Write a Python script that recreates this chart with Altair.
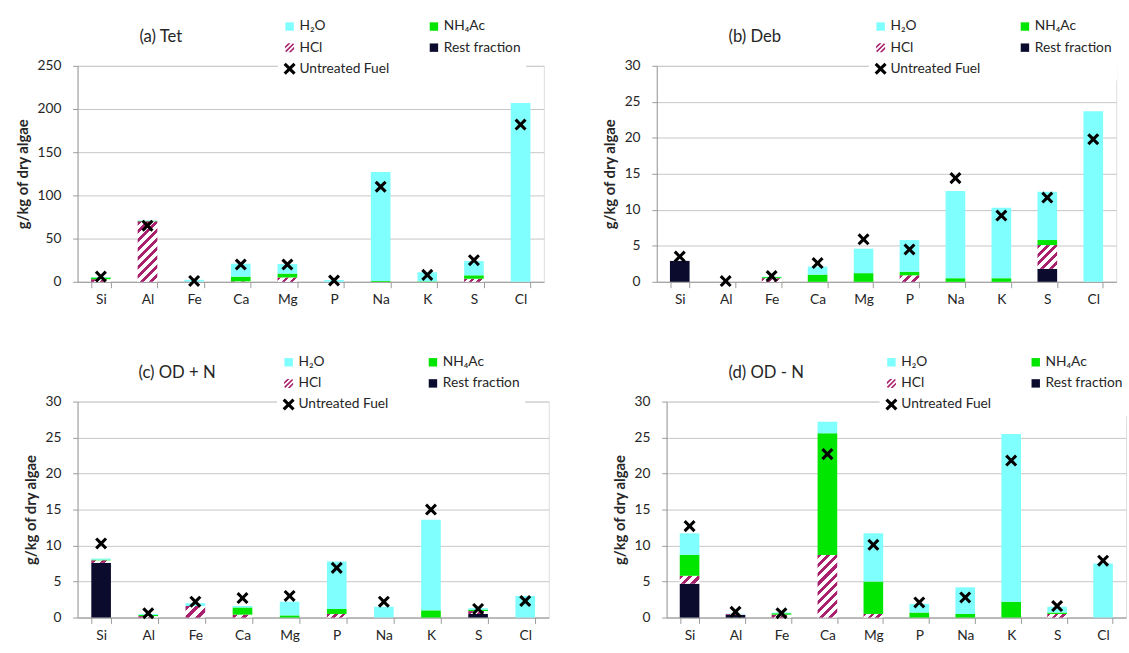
import math
import altair as alt
import pandas as pd

elements = ["Si", "Al", "Fe", "Ca", "Mg", "P", "Na", "K", "S", "Cl"]
series_names = ["H₂O", "NH₄Ac", "HCl", "Rest fraction", "Untreated Fuel"]

# (a) Tet
tet_rest = [0, 0, 0, 0, 0, 0, 0, 0, 0, 0]
tet_hcl = [3, 70, 0.3, 0.5, 5, 0, 0, 0, 3.5, 0]
tet_nh4ac = [2, 0.5, 0, 5.5, 4.5, 0, 1, 0.5, 4, 0]
tet_h2o = [0.5, 0.5, 2, 15, 11, 2, 126, 10.5, 16.5, 207]
tet_untreated = [6, 65, 1, 20, 20, 1.5, 110, 8, 25, 182]

# (b) Deb
deb_rest = [2.9, 0, 0, 0, 0, 0, 0, 0, 1.8, 0]
deb_hcl = [0, 0, 0.5, 0, 0, 0.9, 0, 0, 3.3, 0]
deb_nh4ac = [0, 0, 0.15, 1.0, 1.2, 0.5, 0.5, 0.5, 0.7, 0]
deb_h2o = [0, 0, 0.05, 1.1, 3.4, 4.4, 12.1, 9.8, 6.7, 23.7]
deb_untreated = [3.5, 0.1, 0.8, 2.6, 5.9, 4.5, 14.4, 9.2, 11.7, 19.8]

# (c) OD + N
odp_rest = [7.6, 0, 0, 0, 0, 0, 0, 0, 0.5, 0]
odp_hcl = [0.35, 0.2, 1.6, 0.4, 0, 0.5, 0, 0, 0.4, 0]
odp_nh4ac = [0.1, 0.15, 0, 1.0, 0.3, 0.7, 0, 1.0, 0.2, 0]
odp_h2o = [0.15, 0.15, 0.4, 0.2, 1.9, 6.6, 1.5, 12.6, 0.2, 3.0]
odp_untreated = [10.3, 0.6, 2.2, 2.7, 3.0, 6.9, 2.2, 15.0, 1.2, 2.3]

# (d) OD - N
odm_rest = [4.7, 0.4, 0, 0, 0, 0, 0, 0, 0, 0]
odm_hcl = [1.1, 0.1, 0.4, 8.7, 0.5, 0, 0, 0, 0.5, 0]
odm_nh4ac = [2.9, 0, 0.2, 16.9, 4.5, 0.7, 0.5, 2.2, 0.2, 0]
odm_h2o = [3.0, 0.05, 0.1, 1.6, 6.7, 1.2, 3.7, 23.3, 0.8, 7.5]
odm_untreated = [12.7, 0.8, 0.6, 22.7, 10.1, 2.1, 2.8, 21.8, 1.6, 7.9]

FONT = "Lato"
TEXT = "#262626"
GRID = "#c6c6c6"
AXIS = "#9a9a9a"
MAG = "#a8206e"
colors = ["#80ffff", "#00e600", MAG, "#0b0b2e", "#000000"]

SQ = "M-0.7,-0.7H0.7V0.7H-0.7Z"
HATCH = ("M-0.75,-0.225L-0.225,-0.75L0.15,-0.75L-0.75,0.15Z"
         "M-0.75,0.5625L0.5625,-0.75L0.75,-0.5625L-0.5625,0.75Z"
         "M-0.15,0.75L0.75,-0.15L0.75,0.225L0.225,0.75Z")
XSHAPE = ("M0.64,-1L1,-0.64L0.36,0L1,0.64L0.64,1L0,0.36L-0.64,1"
          "L-1,0.64L-0.36,0L-1,-0.64L-0.64,-1L0,-0.36Z")
shapes = [SQ, SQ, HATCH, SQ, XSHAPE]

H = 220
BAR_W = 20


def hatch_gradient(h_px, w_px=BAR_W, period=6.5, frac=0.45):
    dx, dy = w_px / h_px, 1.0
    k = (dx + dy) / (dx * dx + dy * dy)
    L = (w_px + h_px) / math.sqrt(2)
    n = max(1, round(L / period))
    stops = []
    for i in range(n):
        a, b, c = i / n, (i + frac) / n, (i + 1) / n
        stops += [{"offset": a, "color": MAG}, {"offset": b, "color": MAG},
                  {"offset": b, "color": "#ffffff"}, {"offset": c, "color": "#ffffff"}]
    return {"gradient": "linear", "x1": 0, "y1": 0, "x2": k * dx, "y2": k * dy, "stops": stops}


def panel(title, ymax, ystep, rest, hcl, nh4ac, h2o, untreated, width, tdx, lx, ly):
    rows = []
    for name, arr, o in [("Rest fraction", rest, 0), ("HCl", hcl, 1),
                         ("NH₄Ac", nh4ac, 2), ("H₂O", h2o, 3)]:
        for e, v in zip(elements, arr):
            if v > 0:
                rows.append({"element": e, "series": name, "val": v, "ord": o})
    bars_df = pd.DataFrame(rows)
    pts_df = pd.DataFrame({"element": elements, "series": "Untreated Fuel", "val": untreated})
    title_df = pd.DataFrame({"label": [title]})

    conds = []
    for e, v in zip(elements, hcl):
        if v > 0:
            conds.append({"test": f"datum.series === 'HCl' && datum.element === '{e}'",
                          "value": hatch_gradient(v * H / ymax)})

    legend = alt.Legend(title=None, orient="none", legendX=lx, legendY=ly, columns=2,
                        direction="horizontal", columnPadding=38, rowPadding=7.5,
                        symbolSize=150, labelFontSize=14, labelFont=FONT,
                        labelColor=TEXT, fillColor="white", padding=5,
                        symbolStrokeWidth=0, symbolOpacity=1, labelOffset=3)
    cscale = alt.Scale(domain=series_names, range=colors)
    sscale = alt.Scale(domain=series_names, range=shapes)

    xscale = alt.Scale(domain=elements, paddingInner=0.58, paddingOuter=0.29)
    xaxis = alt.Axis(title=None, labelAngle=0, tickBand="extent", tickSize=6,
                     domainColor=AXIS, tickColor=AXIS, labelFontSize=14,
                     labelFont=FONT, labelColor=TEXT, labelPadding=5, grid=False)
    yscale = alt.Scale(domain=[0, ymax], nice=False)
    yaxis = alt.Axis(title="g/kg of dry algae", values=list(range(0, ymax + 1, ystep)),
                     grid=True, gridColor=GRID, domainColor=AXIS, tickColor=AXIS,
                     tickSize=5, labelFontSize=14, labelFont=FONT, labelColor=TEXT,
                     titleFont=FONT, titleFontSize=15, titleFontWeight="bold",
                     titleColor=TEXT, titlePadding=7, labelPadding=12)

    bars = alt.Chart(bars_df).mark_bar(size=BAR_W).encode(
        x=alt.X("element:N", sort=elements, scale=xscale, axis=xaxis),
        y=alt.Y("val:Q", stack="zero", scale=yscale, axis=yaxis),
        color=alt.Color("series:N", scale=cscale, legend=legend, condition=conds),
        order=alt.Order("ord:Q", sort="ascending"),
    )
    pts = alt.Chart(pts_df).mark_point(filled=True, size=150, opacity=1, strokeWidth=0).encode(
        x=alt.X("element:N", sort=elements, scale=xscale, axis=xaxis),
        y=alt.Y("val:Q", stack=None, scale=yscale, axis=yaxis),
        color=alt.Color("series:N", scale=cscale, legend=legend),
        shape=alt.Shape("series:N", scale=sscale, legend=legend),
    )
    ttl = alt.Chart(title_df).mark_text(
        align="left", baseline="middle", fontSize=17, font=FONT, color=TEXT
    ).encode(x=alt.value(tdx), y=alt.value(-29), text="label:N")
    return alt.layer(bars, pts, ttl).properties(width=width, height=H)


pa = panel("(a) Tet", 250, 50, tet_rest, tet_hcl, tet_nh4ac, tet_h2o, tet_untreated,
           475, 63, 204, -52)
pb = panel("(b) Deb", 30, 5, deb_rest, deb_hcl, deb_nh4ac, deb_h2o, deb_untreated,
           468, 73, 216, -52)
pc = panel("(c) OD + N", 30, 5, odp_rest, odp_hcl, odp_nh4ac, odp_h2o, odp_untreated,
           480, 62, 203, -52)
pd_ = panel("(d) OD - N", 30, 5, odm_rest, odm_hcl, odm_nh4ac, odm_h2o, odm_untreated,
            468, 63, 217, -52)

res = dict(color="independent", shape="independent", y="independent")
top = alt.hconcat(pa, pb, spacing=58).resolve_scale(**res)
bottom = alt.hconcat(pc, pd_, spacing=63).resolve_scale(**res)

chart = alt.vconcat(top, bottom, spacing=43).resolve_scale(**res).configure_view(
    stroke=None
).configure(padding={"left": 15, "top": 8, "right": 0, "bottom": 0}, background="white")

chart.save("out.html", embed_options={"renderer": "svg", "actions": False})
